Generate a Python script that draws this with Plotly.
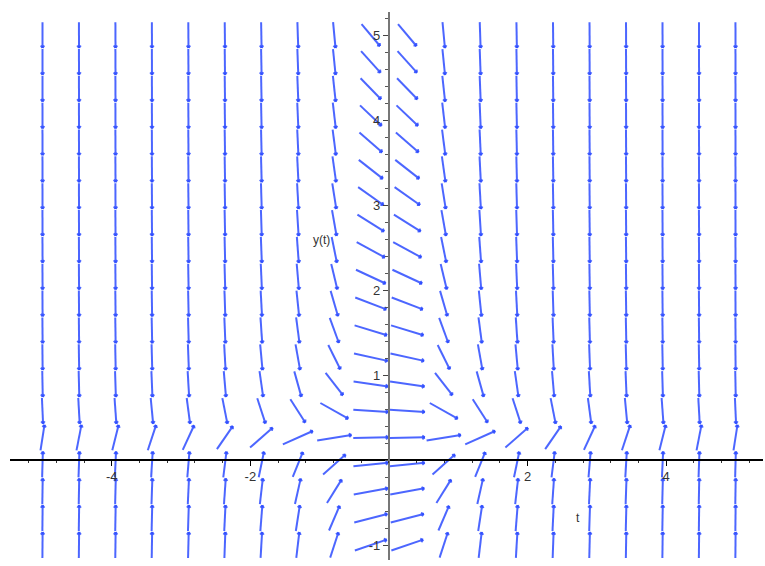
import numpy as np
import plotly.graph_objects as go

# Direction field of  dy/dt = t^2 (1 - 3y)  on t in [-5, 5], y in [-1, 5]
t_span = [-5.0, 5.0]
y_span = [-1.0, 5.0]
n_arrows = 20  # arrows per direction

t_grid = np.linspace(t_span[0], t_span[1], n_arrows)
y_grid = np.linspace(y_span[0], y_span[1], n_arrows)


def rhs(t, y):
    return t ** 2 * (1.0 - 3.0 * y)


x_tickvals = [-4, -2, 2, 4]
x_ticktext = ["-4", "-2", "2", "4"]
y_tickvals = [-1, 1, 2, 3, 4, 5]
y_ticktext = ["-1", "1", "2", "3", "4", "5"]

# ---- figure geometry ----
W, H = 765, 566
x_dom = [10 / W, 763 / W]
y_dom = [(H - 560) / H, (H - 12) / H]
x_range = [-5.469, 5.397]
y_range = [-1.176, 5.271]

px_per_t = (x_dom[1] - x_dom[0]) * W / (x_range[1] - x_range[0])
px_per_y = (y_dom[1] - y_dom[0]) * H / (y_range[1] - y_range[0])

ht = (t_span[1] - t_span[0]) / (n_arrows - 1)
hy = (y_span[1] - y_span[0]) / (n_arrows - 1)
L = 0.96          # arrow length as a fraction of a grid cell
head_px = 3.0     # arrowhead barb length in pixels
head_ang = np.radians(35)

xs, ys = [], []
for t in t_grid:
    for y in y_grid:
        f = rhs(t, y)
        u, v = 1.0 / ht, f / hy
        n = np.hypot(u, v)
        u, v = u / n, v / n
        dt, dy = 0.5 * L * u * ht, 0.5 * L * v * hy
        t0, y0, t1, y1 = t - dt, y - dy, t + dt, y + dy
        xs += [t0, t1, None]
        ys += [y0, y1, None]
        # arrowhead, built in pixel space so it keeps its shape
        bx, by = -(t1 - t0) * px_per_t, -(y1 - y0) * px_per_y
        bn = np.hypot(bx, by)
        bx, by = bx / bn, by / bn
        for s in (1, -1):
            c, sn = np.cos(s * head_ang), np.sin(s * head_ang)
            rx, ry = bx * c - by * sn, bx * sn + by * c
            xs += [t1, t1 + rx * head_px / px_per_t, None]
            ys += [y1, y1 + ry * head_px / px_per_y, None]

fig = go.Figure()
fig.add_trace(go.Scatter(
    x=xs, y=ys, mode="lines",
    line=dict(color="rgba(45,75,255,0.85)", width=2),
    hoverinfo="skip", showlegend=False,
))

tick_font = dict(family="Liberation Sans, Arial, sans-serif", size=13, color="#333")
label_font = dict(family="Liberation Sans, Arial, sans-serif", size=12, color="#333")

fig.update_layout(
    width=W, height=H,
    margin=dict(l=0, r=0, t=0, b=0),
    paper_bgcolor="white", plot_bgcolor="white",
    showlegend=False,
    xaxis=dict(
        domain=x_dom, range=x_range, anchor="free",
        position=(H - 460) / H,
        showgrid=False, zeroline=False,
        showline=True, linecolor="black", linewidth=1.5,
        tickmode="array", tickvals=x_tickvals, ticktext=x_ticktext,
        ticks="outside", ticklen=5, tickwidth=1.2, tickcolor="black",
        tickfont=tick_font,
        minor=dict(dtick=0.4, tick0=0, ticks="outside", ticklen=2,
                   tickwidth=1, tickcolor="#333"),
    ),
    yaxis=dict(
        domain=y_dom, range=y_range, anchor="free",
        position=389 / W,
        showgrid=False, zeroline=False,
        showline=True, linecolor="#777", linewidth=2.2,
        tickmode="array", tickvals=y_tickvals, ticktext=y_ticktext,
        ticks="outside", ticklen=5, tickwidth=1.2, tickcolor="#444",
        tickfont=tick_font,
        minor=dict(dtick=0.2, tick0=0, ticks="outside", ticklen=3,
                   tickwidth=1, tickcolor="#555"),
    ),
    annotations=[
        dict(x=2.73, y=-0.68, xref="x", yref="y", text="t", showarrow=False,
             font=label_font),
        dict(x=-0.97, y=2.59, xref="x", yref="y", text="y(t)", showarrow=False,
             font=label_font),
    ],
)

fig.write_html("out.html")
